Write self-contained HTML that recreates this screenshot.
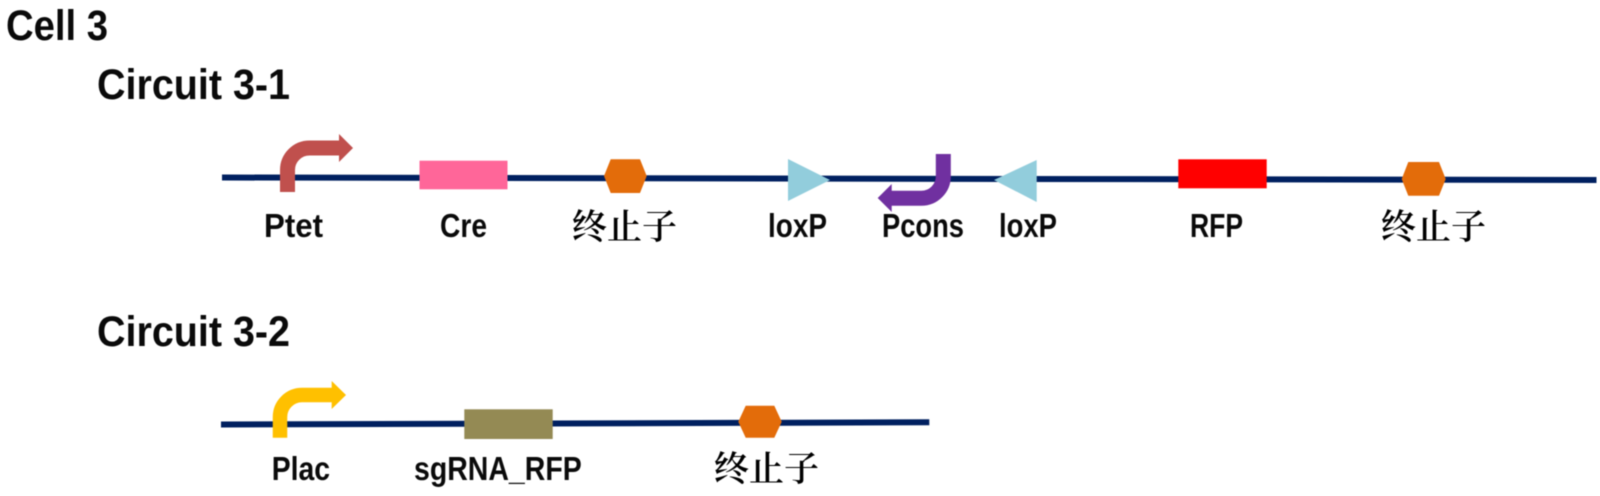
<!DOCTYPE html>
<html>
<head>
<meta charset="utf-8">
<style>
html,body{margin:0;padding:0;background:#fff;width:1600px;height:496px;overflow:hidden}
svg{display:block}
.t{font-family:"Liberation Sans","Noto Sans CJK SC",sans-serif;font-weight:700;fill:#0a0a0a;font-size:43px}
.l{font-family:"Liberation Sans","Noto Sans CJK SC",sans-serif;font-weight:700;fill:#0a0a0a;font-size:33px}
.c{font-family:"Noto Serif CJK SC","Noto Sans CJK SC",serif;font-size:35px;fill:#000;font-weight:600}
</style>
</head>
<body>
<svg width="1600" height="496" viewBox="0 0 1600 496" xmlns="http://www.w3.org/2000/svg">
<g style="filter:blur(0.5px)">
<text class="t" x="6" y="40" textLength="102" lengthAdjust="spacingAndGlyphs">Cell 3</text>
<text class="t" x="97" y="99" textLength="193" lengthAdjust="spacingAndGlyphs">Circuit 3-1</text>
<text class="t" x="97" y="346" textLength="193" lengthAdjust="spacingAndGlyphs">Circuit 3-2</text>

<line x1="222" y1="177.5" x2="1596.5" y2="180" stroke="#002060" stroke-width="6"/>

<path d="M287.5 192 V170 A22 22 0 0 1 309.5 148 H340" fill="none" stroke="#c0504d" stroke-width="15"/>
<polygon points="339,134 353,148 339,162" fill="#c0504d"/>
<rect x="419.5" y="160.7" width="88" height="28.6" fill="#ff6699"/>
<polygon points="604,176 610.7,159.3 640,159.3 646.7,176 640,193 610.7,193" fill="#e36c0a"/>
<polygon points="788,159 830,180 788,201" fill="#92cddc"/>
<polygon points="1036.7,160 994,180 1036.7,202" fill="#92cddc"/>
<path d="M943.3 154 V176 A22 22 0 0 1 921.3 198.3 H891" fill="none" stroke="#7030a0" stroke-width="15"/>
<polygon points="891.7,184 877.7,198 891.7,212" fill="#7030a0"/>
<rect x="1178.3" y="159.3" width="88.4" height="29" fill="#ff0000"/>
<polygon points="1401.7,179 1408.3,162 1439,162 1445.7,179 1439,195.7 1408.3,195.7" fill="#e36c0a"/>

<text class="l" x="264" y="237" textLength="59" lengthAdjust="spacingAndGlyphs">Ptet</text>
<text class="l" x="440" y="237" textLength="47" lengthAdjust="spacingAndGlyphs">Cre</text>
<text class="c" x="572" y="239" textLength="105" lengthAdjust="spacing">终止子</text>
<text class="l" x="768" y="237" textLength="59" lengthAdjust="spacingAndGlyphs">loxP</text>
<text class="l" x="882" y="237" textLength="82" lengthAdjust="spacingAndGlyphs">Pcons</text>
<text class="l" x="999" y="237" textLength="58" lengthAdjust="spacingAndGlyphs">loxP</text>
<text class="l" x="1190" y="237" textLength="53" lengthAdjust="spacingAndGlyphs">RFP</text>
<text class="c" x="1381" y="239" textLength="105" lengthAdjust="spacing">终止子</text>

<line x1="221" y1="424.5" x2="929.3" y2="422.3" stroke="#002060" stroke-width="6"/>
<path d="M280 437.7 V417 A22 22 0 0 1 302 395 H332.5" fill="none" stroke="#ffc000" stroke-width="14.5"/>
<polygon points="331.7,381 346,395 331.7,409" fill="#ffc000"/>
<rect x="464.3" y="409.3" width="88.4" height="29.7" fill="#948a54"/>
<polygon points="738.3,421.7 745.7,405.7 774.3,405.7 781.7,421.7 774.3,437.7 745.7,437.7" fill="#e36c0a"/>

<text class="l" x="271.7" y="480" textLength="58.3" lengthAdjust="spacingAndGlyphs">Plac</text>
<text class="l" x="414" y="480" textLength="167.7" lengthAdjust="spacingAndGlyphs">sgRNA_RFP</text>
<text class="c" x="714" y="481" textLength="105" lengthAdjust="spacing">终止子</text>
</g>
</svg>
</body>
</html>
